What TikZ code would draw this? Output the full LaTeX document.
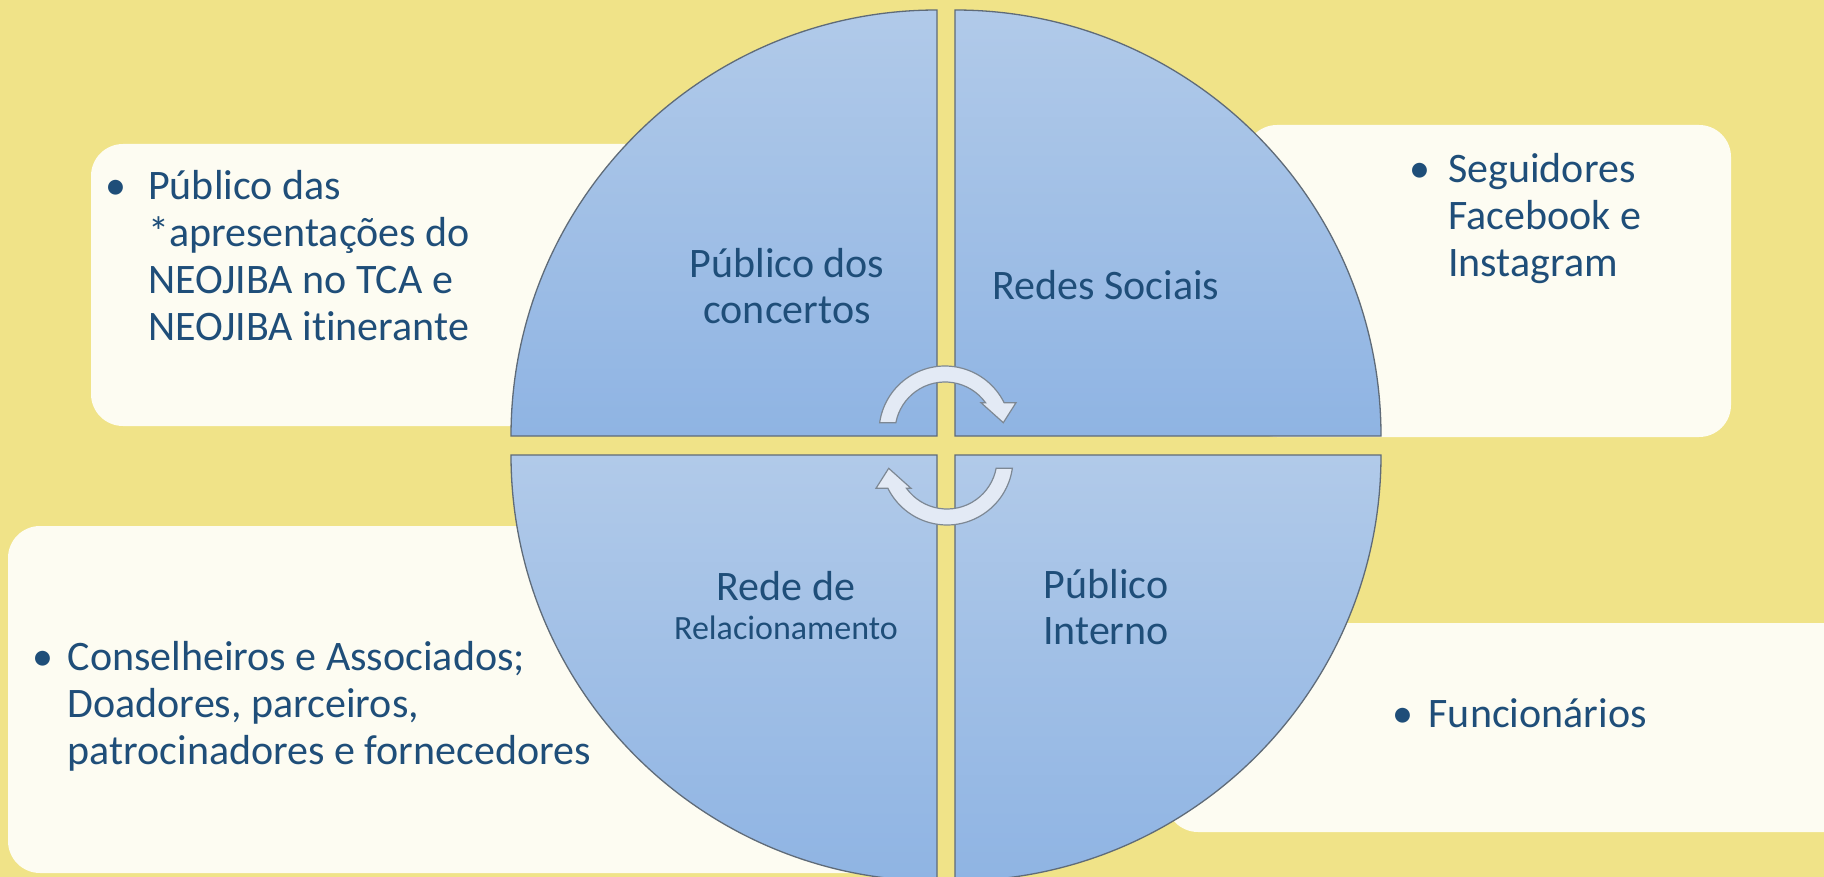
\documentclass[tikz,border=0pt]{standalone}
\usepackage{fontspec}
\setmainfont{Carlito}[Ligatures={NoCommon}]
\definecolor{bg}{HTML}{F0E388}
\definecolor{boxfill}{HTML}{FDFCF2}
\definecolor{txt}{HTML}{1F4E79}
\definecolor{qtop}{HTML}{B1CAE9}
\definecolor{qbot}{HTML}{8FB4E3}
\definecolor{qline}{HTML}{5F6B78}
\definecolor{arrfill}{HTML}{E3EAF5}
\definecolor{arrline}{HTML}{7D8894}
\begin{document}
\begin{tikzpicture}[x=1pt,y=-1pt,
  quad/.style={top color=qtop,bottom color=qbot,draw=qline,line width=1.3pt},
  infobox/.style={fill=boxfill,rounded corners=32pt},
  qlabel/.style={text=txt,font=\fontsize{42}{46}\selectfont,align=center,inner sep=0pt,anchor=base},
  btext/.style={text=txt,font=\fontsize{42}{47}\selectfont,align=left,inner sep=0pt,anchor=base west},
  bullet/.style={text=txt,font=\fontsize{42}{47}\selectfont,inner sep=0pt,anchor=base},
  cyc/.style={fill=arrfill,draw=arrline,line width=1.2pt,line join=miter},
  cycarrow/.pic={\path[cyc] (-66.34,-22.79) arc[start angle=188.1,end angle=333.6,radius=66]
      -- (70,-42.8) -- (57.3,-22.8) -- (35,-42.8) -- (39.5,-42.82)
      arc[start angle=324.1,end angle=190.7,radius=50] -- cycle;}]
\fill[bg] (0,0) rectangle (1824,877);
\useasboundingbox (0,0) rectangle (1824,877);
% text boxes
\fill[infobox] (91,144) rectangle (760,426);
\fill[infobox] (1245,125) rectangle (1731,437);
\fill[infobox] (8,526) rectangle (920,873);
\fill[infobox] (1166,623) rectangle (1900,832);
% quadrants
\path[quad] (937,436) -- ++(180:426) arc[start angle=180,end angle=270,radius=426] -- cycle;
\path[quad] (955,436) -- ++(270:426) arc[start angle=270,end angle=360,radius=426] -- cycle;
\path[quad] (955,455) -- ++(0:426) arc[start angle=0,end angle=90,radius=426] -- cycle;
\path[quad] (937,455) -- ++(90:426) arc[start angle=90,end angle=180,radius=426] -- cycle;
% quadrant labels (anchor base = last line)
\node[qlabel] (q1) at (787,324) {Público dos\\concertos};
\node[qlabel] (q2) at (1106,300) {Redes Sociais};
\node[qlabel,font=\fontsize{42}{39}\selectfont] (q3) at (786,639) {Rede de\\{\fontsize{34}{39}\selectfont Relacionamento}};
\node[qlabel] (q4) at (1106,644) {Público\\Interno};
% cycle arrows
\pic (arrowtop) at (946,445.5) {cycarrow};
\pic[rotate=180] (arrowbot) at (946,445.5) {cycarrow};
% box texts
\node[bullet] (b1) at (116,200) {•};
\node[btext] (t1) at (148,341) {Público das\\*apresentações do\\NEOJIBA no TCA e\\NEOJIBA itinerante};
\node[bullet] (b2) at (1420,183) {•};
\node[btext] (t2) at (1448,277) {Seguidores\\Facebook e\\Instagram};
\node[bullet] (b3) at (43,670) {•};
\node[btext] (t3) at (67.5,764) {Conselheiros e Associados;\\Doadores, parceiros,\\patrocinadores e fornecedores};
\node[bullet] (b4) at (1403,727) {•};
\node[btext] (t4) at (1428.5,727) {Funcionários};
\end{tikzpicture}
\end{document}
